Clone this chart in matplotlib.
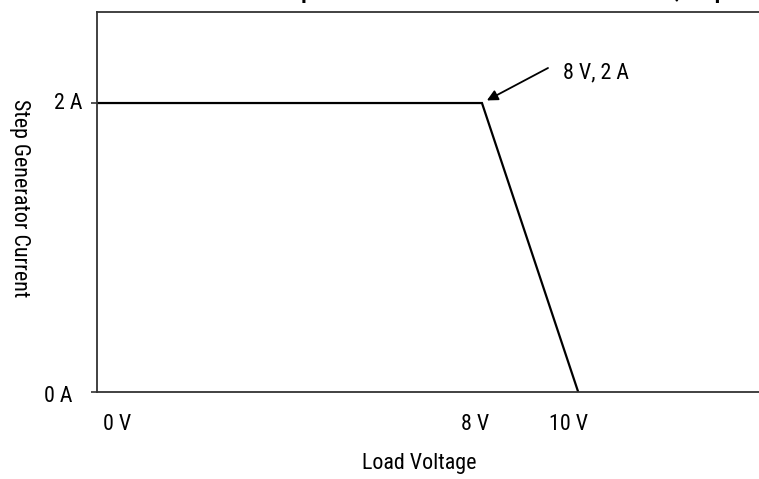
import matplotlib
matplotlib.use("Agg")
import matplotlib.pyplot as plt

# data: step generator output vs load voltage
voltage = [0, 8, 10]
current = [2, 2, 0]
x_ticks = [0, 8, 10]
x_tick_labels = ["0 V", "8 V", "10 V"]
y_ticks = [0, 2]
y_tick_labels = ["0 A", "2 A"]
knee = (8, 2)
knee_label = "8 V, 2 A"

plt.rcParams["font.family"] = ["Roboto Condensed", "Liberation Sans Narrow", "Roboto", "DejaVu Sans"]
FS = 15.8

W, H = 759, 479
fig = plt.figure(figsize=(W / 100, H / 100), dpi=100)
ax = fig.add_axes([97 / W, (H - 392) / H, 0.88, (392 - 12) / H])
ax.set_xlim(0, 13.88)
ax.set_ylim(0, 2.63)

ax.plot(voltage, current, color="black", lw=1.6, solid_joinstyle="miter")

for s in ["left", "top", "bottom"]:
    ax.spines[s].set_linewidth(1.3)
    ax.spines[s].set_color("#333")
ax.spines["right"].set_visible(False)

ax.set_xticks(x_ticks)
ax.set_xticklabels([])
ax.tick_params(axis="x", length=0)
ax.set_yticks(y_ticks)
ax.set_yticklabels([])
ax.tick_params(axis="y", length=4, width=1.2, direction="out", color="#333")

# x tick labels, a little shifted like the drawing
x_off = [20, -7, -10]
for v, t, o in zip(x_ticks, x_tick_labels, x_off):
    ax.annotate(t, xy=(v, 0), xycoords=("data", "axes fraction"), xytext=(o, -33),
                textcoords="offset pixels", ha="center", va="center", fontsize=FS)
y_off = [(-25, -5), (-14, 0)]
for v, t, o in zip(y_ticks, y_tick_labels, y_off):
    ax.annotate(t, xy=(0, v), xycoords=("axes fraction", "data"), xytext=o,
                textcoords="offset pixels", ha="right", va="center", fontsize=FS)

ax.text(563, H - 73, knee_label, transform=None, ha="left", va="center", fontsize=FS)
ax.annotate("", xy=knee, xycoords="data", xytext=(548, H - 68), textcoords="figure pixels",
            arrowprops=dict(arrowstyle="-|>", color="black", lw=1.3, mutation_scale=16,
                            shrinkA=0, shrinkB=4))

fig.text(419 / W, 1 - 463 / H, "Load Voltage", ha="center", va="center", fontsize=FS)
fig.text(19 / W, 1 - 198 / H, "Step Generator Current", ha="center", va="center",
         rotation=270, fontsize=FS)

# title sits mostly above the visible area
fig.text(272 / W, 1 + 2 / H, "Step Generator Current Limit Reached at 10 V, Step Size",
         ha="left", va="baseline", fontsize=FS, fontweight="bold")

fig.savefig("out.png", dpi=100)
